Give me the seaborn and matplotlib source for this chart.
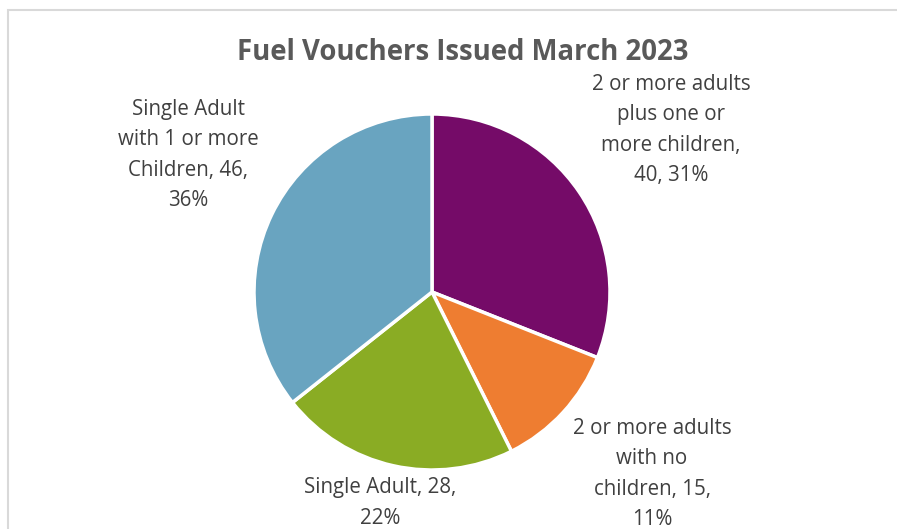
import matplotlib
matplotlib.use("Agg")
import matplotlib.pyplot as plt
import seaborn as sns
from matplotlib.patches import Rectangle

categories = ["2 or more adults plus one or more children",
              "2 or more adults with no children",
              "Single Adult",
              "Single Adult with 1 or more Children"]
values = [40, 15, 28, 46]
pct_labels = ["31%", "11%", "22%", "36%"]
label_texts = ["2 or more adults\nplus one or\nmore children,\n40, 31%",
               "2 or more adults\nwith no\nchildren, 15,\n11%",
               "Single Adult, 28,\n22%",
               "Single Adult\nwith 1 or more\nChildren, 46,\n36%"]
colors = sns.color_palette(["#750B68", "#EE7D31", "#8AAC24", "#69A4C0"])

sns.set_theme(style="white")
plt.rcParams['font.family'] = ['Open Sans', 'DejaVu Sans']

W, H = 897, 529
fig = plt.figure(figsize=(W / 100, H / 100), dpi=100)

# border
fig.patches.append(Rectangle((8 / W, -0.1), 1.2, (H - 10) / H + 0.1,
                             transform=fig.transFigure, fill=False,
                             edgecolor="#d9d9d9", linewidth=1.5))

cx, cy, r = 432, 292, 178
ax = fig.add_axes([(cx - r) / W, (H - cy - r) / H, 2 * r / W, 2 * r / H])
ax.pie(values, colors=colors, startangle=90, counterclock=False,
       wedgeprops=dict(edgecolor="white", linewidth=2.5))
ax.set_xlim(-1, 1)
ax.set_ylim(-1, 1)
ax.set_aspect("equal")
ax.axis("off")

fig.text(463 / W, 1 - 52 / H, "Fuel Vouchers Issued March 2023",
         ha="center", va="center", fontsize=19.8, fontweight="bold",
         color="#595959")

label_pos = [(671, 130), (652, 474), (380, 503), (188, 155)]
for txt, (x, y) in zip(label_texts, label_pos):
    fig.text(x / W, 1 - y / H, txt, ha="center", va="center",
             fontsize=14.8, color="#404040", linespacing=1.6)

fig.savefig("out.png", dpi=100)
